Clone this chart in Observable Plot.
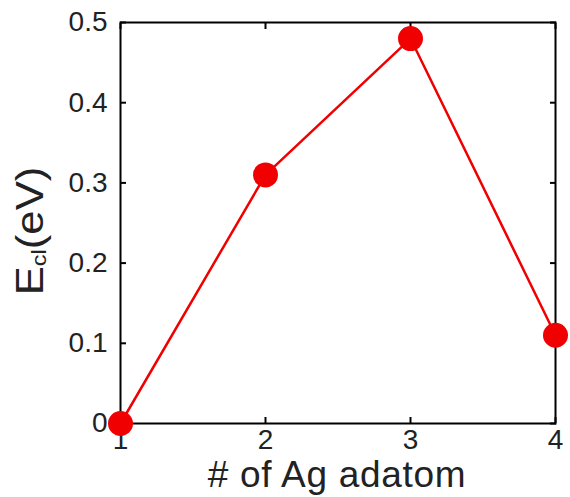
<!DOCTYPE html>
<html>
<head>
<meta charset="utf-8">
<script src="https://cdn.jsdelivr.net/npm/d3@7"></script>
<script src="https://cdn.jsdelivr.net/npm/@observablehq/plot@0.6"></script>
<style>
  html, body { margin: 0; padding: 0; background: #fff; }
  svg { font-family: "Liberation Sans", Arial, Helvetica, sans-serif; }
</style>
</head>
<body>
<div id="chart"></div>
<script>
const adatoms = [1, 2, 3, 4];
const energies = [0, 0.31, 0.48, 0.11];
const xTicks = [1, 2, 3, 4];
const yTicks = [0, 0.1, 0.2, 0.3, 0.4, 0.5];
const yTickLabels = ["0", "0.1", "0.2", "0.3", "0.4", "0.5"];
const xTitle = "# of Ag adatom";

const data = adatoms.map((n, i) => ({n, e: energies[i]}));
const red = "#f00000";

const chart = Plot.plot({
  width: 570,
  height: 497,
  marginLeft: 120,
  marginRight: 15,
  marginTop: 22,
  marginBottom: 74,
  style: {background: "#fff", fontFamily: "Liberation Sans, Arial, sans-serif"},
  x: {domain: [1, 4]},
  y: {domain: [0, 0.5]},
  marks: [
    Plot.frame({stroke: "#000", strokeWidth: 2}),
    // inward ticks on all four sides
    Plot.axisX({anchor: "bottom", ticks: xTicks, tickSize: -6, strokeWidth: 2, stroke: "#000", text: null, label: null}),
    Plot.axisX({anchor: "top", ticks: xTicks, tickSize: -6, strokeWidth: 2, stroke: "#000", text: null, label: null}),
    Plot.axisY({anchor: "left", ticks: yTicks, tickSize: -6, strokeWidth: 2, stroke: "#000", text: null, label: null}),
    Plot.axisY({anchor: "right", ticks: yTicks, tickSize: -6, strokeWidth: 2, stroke: "#000", text: null, label: null}),
    // tick labels
    Plot.axisX({anchor: "bottom", ticks: xTicks, tickSize: 0, tickPadding: 6, fontSize: 28, fill: "#222", tickFormat: d => String(d), label: null}),
    Plot.axisY({anchor: "left", ticks: yTicks, tickSize: 0, tickPadding: 13, fontSize: 28, fill: "#222", tickFormat: (d, i) => yTickLabels[i], label: null}),
    Plot.line(data, {x: "n", y: "e", stroke: red, strokeWidth: 2.5}),
    Plot.dot(data, {x: "n", y: "e", r: 12.5, fill: red, stroke: "none"})
  ]
});

document.getElementById("chart").appendChild(chart);

const svg = d3.select(chart);
// x axis title
svg.append("text")
  .attr("x", 337)
  .attr("y", 487)
  .attr("text-anchor", "middle")
  .attr("font-size", 37)
  .attr("letter-spacing", 0.7)
  .attr("fill", "#222")
  .text(xTitle);

// y axis title with subscript
const yt = svg.append("text")
  .attr("transform", "translate(43,231) rotate(-90) scale(1.12,1)")
  .attr("text-anchor", "middle")
  .attr("font-size", 39)
  .attr("fill", "#222");
yt.append("tspan").text("E");
yt.append("tspan").attr("font-size", 21).attr("dy", 3).text("cl");
yt.append("tspan").attr("dy", -3).text("(eV)");
</script>
</body>
</html>
